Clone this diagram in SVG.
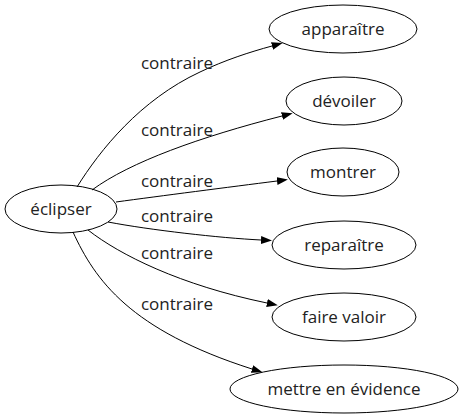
<svg xmlns="http://www.w3.org/2000/svg" width="462" height="419" viewBox="0 0 462 419">
<style>
.n ellipse{fill:none;stroke:#000;stroke-width:1}
text{font-family:"Open Sans","DejaVu Sans",sans-serif;font-size:17px;fill:#222;text-anchor:middle}
.e path{fill:none;stroke:#000;stroke-width:1}
</style>
<defs>
<marker id="a" markerWidth="11" markerHeight="8" refX="0" refY="4" orient="auto" markerUnits="userSpaceOnUse">
<path d="M0,0 L11,4 L0,8 z" fill="#000"/>
</marker>
</defs>
<rect width="462" height="419" fill="#fff"/>
<g class="e">
<path d="M77,187 C100,150 140,100 200,72 C225,60 250,52 272,46" marker-end="url(#a)"/>
<path d="M92,190 C130,162 200,137 282,116" marker-end="url(#a)"/>
<path d="M116,202 C160,196 230,187 277,181" marker-end="url(#a)"/>
<path d="M108,222 C150,230 220,238 261,240" marker-end="url(#a)"/>
<path d="M88,230 C120,255 180,285 267,303" marker-end="url(#a)"/>
<path d="M73,232 C95,280 130,330 252,369" marker-end="url(#a)"/>
<text x="177" y="69">contraire</text>
<text x="177" y="136">contraire</text>
<text x="177" y="187">contraire</text>
<text x="177" y="222">contraire</text>
<text x="177" y="259">contraire</text>
<text x="177" y="310">contraire</text>
</g>
<g class="n" id="n0"><ellipse cx="61" cy="209" rx="56" ry="24"/><text x="61" y="215">éclipser</text></g>
<g class="n" id="n1"><ellipse cx="343" cy="29" rx="74" ry="24"/><text x="343" y="35">apparaître</text></g>
<g class="n" id="n2"><ellipse cx="344" cy="101" rx="58" ry="24"/><text x="344" y="107">dévoiler</text></g>
<g class="n" id="n3"><ellipse cx="343" cy="172" rx="56" ry="24"/><text x="343" y="178">montrer</text></g>
<g class="n" id="n4"><ellipse cx="344" cy="245" rx="72" ry="24"/><text x="344" y="251">reparaître</text></g>
<g class="n" id="n5"><ellipse cx="344" cy="317" rx="72" ry="24"/><text x="344" y="323">faire valoir</text></g>
<g class="n" id="n6"><ellipse cx="344" cy="389" rx="114" ry="24"/><text x="344" y="395">mettre en évidence</text></g>
</svg>
